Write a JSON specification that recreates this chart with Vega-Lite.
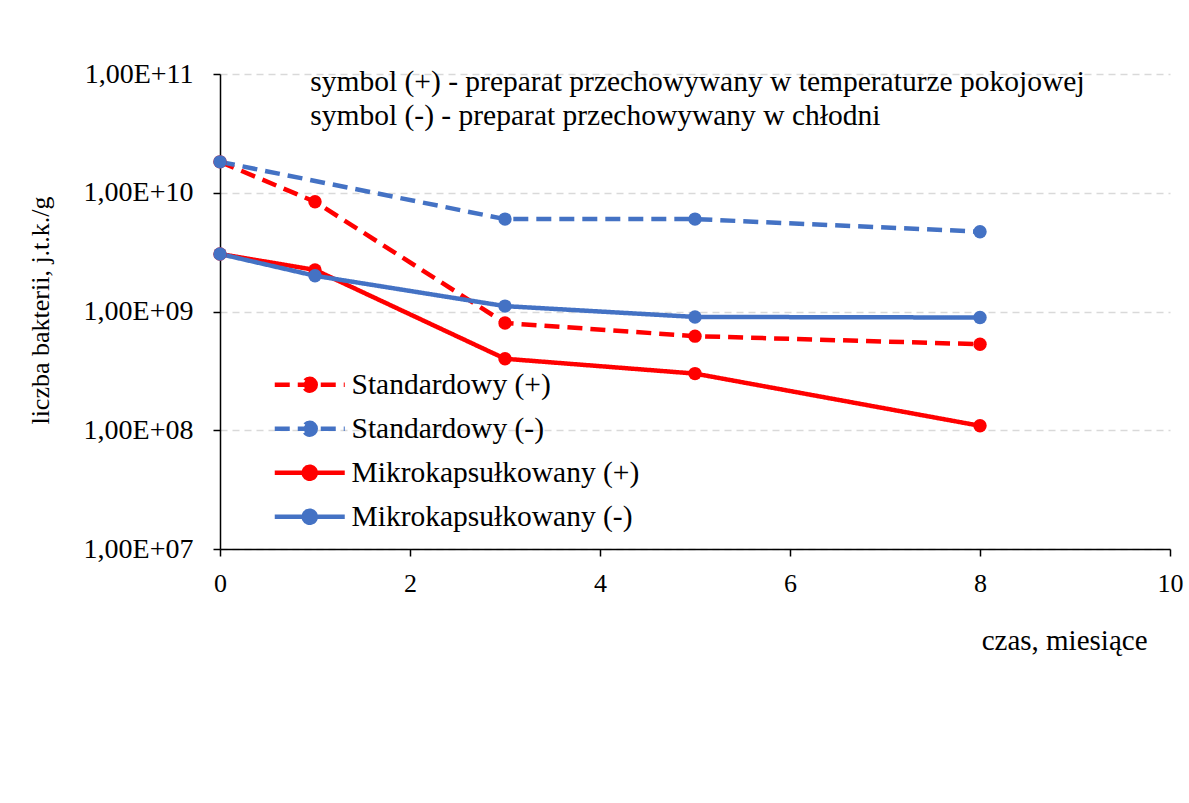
{
  "$schema": "https://vega.github.io/schema/vega-lite/v6.json",
  "width": 950,
  "height": 475,
  "autosize": {"type": "none"},
  "padding": {"left": 220, "top": 74, "right": 19, "bottom": 254},
  "background": "white",
  "config": {"font": "Liberation Serif", "view": {"stroke": null}},
  "datasets": {
    "series": [
      {"seria": "Standardowy (+)", "czas": 0, "liczba": 1.82e10},
      {"seria": "Standardowy (+)", "czas": 1, "liczba": 8.4e9},
      {"seria": "Standardowy (+)", "czas": 3, "liczba": 8.0e8},
      {"seria": "Standardowy (+)", "czas": 5, "liczba": 6.2e8},
      {"seria": "Standardowy (+)", "czas": 8, "liczba": 5.3e8},
      {"seria": "Standardowy (-)", "czas": 0, "liczba": 1.82e10},
      {"seria": "Standardowy (-)", "czas": 3, "liczba": 6.0e9},
      {"seria": "Standardowy (-)", "czas": 5, "liczba": 6.0e9},
      {"seria": "Standardowy (-)", "czas": 8, "liczba": 4.7e9},
      {"seria": "Mikrokapsułkowany (+)", "czas": 0, "liczba": 3.05e9},
      {"seria": "Mikrokapsułkowany (+)", "czas": 1, "liczba": 2.24e9},
      {"seria": "Mikrokapsułkowany (+)", "czas": 3, "liczba": 4.0e8},
      {"seria": "Mikrokapsułkowany (+)", "czas": 5, "liczba": 3.0e8},
      {"seria": "Mikrokapsułkowany (+)", "czas": 8, "liczba": 1.09e8},
      {"seria": "Mikrokapsułkowany (-)", "czas": 0, "liczba": 3.05e9},
      {"seria": "Mikrokapsułkowany (-)", "czas": 1, "liczba": 2.0e9},
      {"seria": "Mikrokapsułkowany (-)", "czas": 3, "liczba": 1.11e9},
      {"seria": "Mikrokapsułkowany (-)", "czas": 5, "liczba": 9.0e8},
      {"seria": "Mikrokapsułkowany (-)", "czas": 8, "liczba": 8.9e8}
    ],
    "notes": [
      {"czas": 0.95, "liczba": 8.56e10, "tekst": "symbol (+) - preparat przechowywany w temperaturze pokojowej"},
      {"czas": 0.95, "liczba": 4.43e10, "tekst": "symbol (-) - preparat przechowywany w chłodni"}
    ]
  },
  "layer": [
    {
      "data": {"name": "series"},
      "mark": {"type": "line", "strokeWidth": 4.5, "strokeCap": "butt"},
      "encoding": {
        "x": {
          "field": "czas", "type": "quantitative",
          "scale": {"domain": [0, 10], "nice": false},
          "axis": {
            "values": [0, 2, 4, 6, 8, 10],
            "format": "d",
            "grid": false,
            "labelFlush": false,
            "domainColor": "black", "domainWidth": 1.5,
            "tickColor": "black", "tickSize": 7, "tickWidth": 1.5,
            "labelFontSize": 26, "labelColor": "black", "labelPadding": 14,
            "title": "czas, miesiące",
            "titleFontSize": 29, "titleFontWeight": "normal", "titleColor": "black",
            "titleAnchor": "end", "titleAlign": "right", "titleBaseline": "middle",
            "titleX": 927, "titleY": 91
          }
        },
        "y": {
          "field": "liczba", "type": "quantitative",
          "scale": {"type": "log", "domain": [1e7, 1e11], "nice": false},
          "axis": {
            "values": [1e7, 1e8, 1e9, 1e10, 1e11],
            "labelExpr": "'1,00E+' + format(round(log(datum.value)/LN10), '02d')",
            "grid": true, "gridColor": "#d9d9d9", "gridDash": [7, 5], "gridWidth": 1.5,
            "domainColor": "black", "domainWidth": 1.5,
            "tickColor": "black", "tickSize": 7, "tickWidth": 1.5,
            "labelFontSize": 28, "labelColor": "black", "labelPadding": 20,
            "title": "liczba bakterii, j.t.k./g",
            "titleFontSize": 26, "titleFontWeight": "normal", "titleColor": "black",
            "titleAngle": 270, "titleBaseline": "middle", "titleAlign": "center",
            "titleX": -180, "titleY": 236
          }
        },
        "color": {
          "field": "seria", "type": "nominal",
          "scale": {
            "domain": ["Standardowy (+)", "Standardowy (-)", "Mikrokapsułkowany (+)", "Mikrokapsułkowany (-)"],
            "range": ["#ff0000", "#4472c4", "#ff0000", "#4472c4"]
          },
          "legend": {
            "title": null,
            "orient": "none",
            "legendX": 75,
            "legendY": 296,
            "padding": 0,
            "symbolType": "M-3.5,0H3.5M0.6,0A0.6,0.6,0,1,1,-0.6,0A0.6,0.6,0,1,1,0.6,0Z",
            "symbolSize": 400,
            "symbolStrokeWidth": 4.5,
            "labelOffset": 27,
            "labelFontSize": 29.5,
            "labelLimit": 600,
            "labelColor": "black",
            "rowPadding": 13,
            "encode": {
              "symbols": {"update": {"fill": {"scale": "color", "field": "value"}}}
            }
          }
        },
        "strokeDash": {
          "field": "seria", "type": "nominal",
          "scale": {
            "domain": ["Standardowy (+)", "Standardowy (-)", "Mikrokapsułkowany (+)", "Mikrokapsułkowany (-)"],
            "range": [[15, 8], [15, 8], [1, 0], [1, 0]]
          }
        }
      }
    },
    {
      "data": {"name": "series"},
      "mark": {"type": "point", "filled": true, "shape": "circle", "size": 180, "opacity": 1},
      "encoding": {
        "x": {"field": "czas", "type": "quantitative"},
        "y": {"field": "liczba", "type": "quantitative"},
        "color": {"field": "seria", "type": "nominal", "legend": null}
      }
    },
    {
      "data": {"name": "notes"},
      "mark": {"type": "text", "align": "left", "baseline": "middle", "fontSize": 29.5, "color": "black"},
      "encoding": {
        "x": {"field": "czas", "type": "quantitative"},
        "y": {"field": "liczba", "type": "quantitative"},
        "text": {"field": "tekst"}
      }
    }
  ]
}
